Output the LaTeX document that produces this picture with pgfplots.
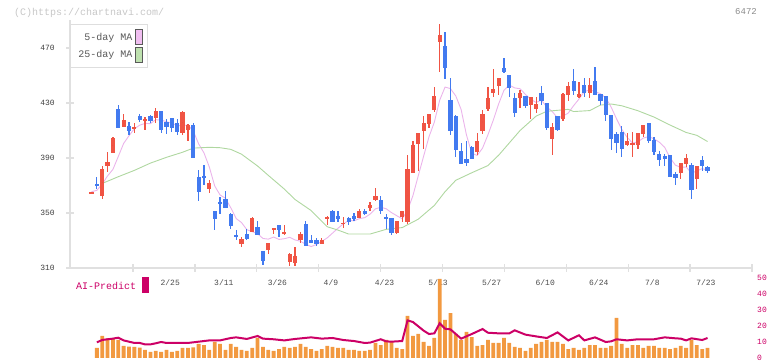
\documentclass[border=0pt]{standalone}
\usepackage{pgfplots}
\usepackage{pgfplotstable}
\pgfplotsset{compat=1.18}
\usepackage{fontspec}
\setmainfont{Liberation Mono}
\definecolor{cred}{RGB}{240,84,68}
\definecolor{cblue}{RGB}{66,122,240}
\definecolor{cpink}{RGB}{235,180,235}
\definecolor{cpinkfill}{RGB}{240,190,240}
\definecolor{cgreen}{RGB}{175,215,160}
\definecolor{cgreenfill}{RGB}{190,225,175}
\definecolor{corange}{RGB}{242,153,64}
\definecolor{cmag}{RGB}{204,0,102}
\definecolor{caxis}{RGB}{224,224,224}

\pgfplotstableread{
i o h l c
0 364.6 365.6 364.6 365.2
2 362.6 384.2 360.4 382.0
3 384.2 394.4 379.6 387.1
4 393.9 405.3 393.4 404.5
6 412.8 422.0 412.8 417.6
8 411.6 415.5 408.4 412.3
10 417.4 419.6 410.4 418.1
12 418.9 426.4 415.2 424.2
17 408.0 424.0 407.0 423.5
18 410.6 414.5 402.6 414.0
22 367.7 374.0 364.8 371.8
28 327.7 332.8 325.3 331.1
30 336.4 347.3 336.4 346.4
33 323.3 328.2 320.4 328.2
34 338.1 339.3 334.5 338.9
36 334.5 341.3 334.0 336.4
37 314.6 320.9 311.7 320.2
38 313.9 325.3 311.7 318.7
39 330.4 336.4 328.0 334.5
43 327.5 331.6 327.5 330.4
44 345.9 347.5 341.5 347.1
47 342.2 347.1 339.3 342.9
50 346.6 352.7 346.6 351.5
52 353.9 358.0 351.7 356.0
53 359.7 368.0 358.9 362.4
57 335.7 344.2 334.5 344.2
58 347.1 351.5 343.7 351.5
59 343.7 392.2 342.0 382.0
60 379.3 402.4 379.0 399.5
61 400.0 408.2 380.8 408.2
62 409.9 420.3 396.5 415.5
63 414.9 422.0 411.6 422.0
64 424.9 441.6 423.7 435.1
65 474.6 487.5 452.8 479.7
72 394.4 408.2 392.2 402.4
73 409.9 424.9 407.7 422.0
74 425.6 441.6 424.4 433.6
75 437.3 454.7 434.4 440.2
76 442.6 448.2 436.0 448.2
80 433.9 439.5 426.6 437.3
82 428.5 434.4 418.4 434.4
83 425.6 434.4 422.7 429.3
86 403.8 415.5 392.2 412.5
88 418.4 437.3 416.9 436.5
89 435.8 445.3 431.5 442.4
91 434.5 445.3 433.6 436.5
93 437.3 448.2 433.6 443.1
100 399.5 408.2 398.7 402.4
101 400.0 408.9 391.0 400.9
102 399.5 408.2 396.5 408.2
103 407.5 414.0 405.3 414.0
110 379.1 386.4 374.7 386.4
111 385.6 392.9 383.5 390.0
113 374.7 384.2 367.5 384.2
}\redtab

\pgfplotstableread{
i o h l c
1 371.1 376.2 367.2 369.9
5 425.6 428.5 412.0 412.0
7 413.3 416.0 406.9 409.9
9 420.5 422.0 416.0 417.9
11 420.5 421.0 415.2 416.9
13 424.2 424.2 408.4 410.6
14 416.0 418.1 407.5 412.5
15 419.1 419.1 409.0 412.0
16 415.5 418.4 406.9 408.7
19 414.0 415.2 389.8 389.8
20 376.2 381.5 358.9 365.5
21 377.1 385.1 370.4 375.9
23 351.7 351.7 337.9 345.6
24 358.0 361.6 349.5 356.8
25 360.2 365.8 353.9 353.9
26 349.5 350.2 338.4 340.8
27 334.0 337.9 330.6 332.8
29 334.7 338.1 330.4 331.1
31 339.8 344.2 333.8 333.8
32 322.4 322.4 312.4 315.3
35 341.3 341.3 332.8 337.6
40 342.0 344.0 326.2 326.2
41 330.4 334.0 328.4 328.4
42 330.4 331.6 326.2 327.5
45 351.5 352.2 343.7 343.7
46 347.8 351.5 343.7 345.9
48 346.4 347.1 341.5 343.5
49 347.8 350.0 344.2 345.6
51 351.5 352.7 348.5 349.3
54 359.5 362.4 349.3 351.7
55 347.1 349.3 338.4 345.9
56 346.1 346.1 333.8 335.7
66 471.5 481.6 447.7 455.7
67 432.2 448.0 406.7 409.9
68 420.5 421.3 391.0 395.8
69 395.1 400.9 385.6 385.6
70 389.3 402.4 384.4 386.6
71 398.0 398.5 389.3 389.3
77 455.5 462.7 451.8 452.5
78 450.4 450.4 434.6 441.1
79 433.6 437.3 420.0 423.0
81 435.1 435.1 426.6 427.8
84 437.3 442.4 428.5 431.5
85 430.0 430.0 410.4 411.8
87 420.5 420.5 409.6 410.4
90 446.0 454.7 435.8 438.7
92 443.1 448.2 434.4 437.3
94 446.0 456.2 435.8 435.8
95 436.5 436.5 428.5 431.5
96 435.1 435.1 416.9 421.3
97 421.3 421.3 395.8 403.8
98 407.5 408.9 393.9 400.7
99 408.9 413.3 391.0 396.8
104 415.5 415.5 400.7 402.4
105 403.1 405.3 392.2 394.4
106 392.9 395.1 384.2 388.5
107 391.5 392.9 384.2 389.5
108 392.2 392.2 376.2 376.2
109 378.4 379.8 370.4 375.5
112 384.9 386.4 360.2 366.7
114 388.5 391.5 380.5 384.2
115 383.5 384.2 379.1 380.5
}\bluetab

\pgfplotstableread{
i v
1 6.25
2 13.75
3 12.3
4 12.3
5 11.25
6 7.5
7 7.1
8 6.9
9 6.5
10 5.0
11 3.75
12 4.4
13 3.75
14 5.0
15 3.75
16 4.4
17 6.25
18 6.25
19 6.7
20 8.75
21 8.1
22 5.0
23 10
24 8.75
25 5.0
26 8.75
27 6.9
28 5.0
29 4.4
30 6.25
31 12.5
32 6.9
33 5.0
34 4.4
35 5.6
36 6.9
37 6.25
38 6.9
39 8.75
40 6.9
41 5.6
42 4.4
43 5.6
44 7.5
45 6.9
46 6.25
47 6.25
48 5.0
49 5.0
50 4.4
51 4.4
52 5.0
53 9.4
54 8.1
55 11.25
56 10
57 6.25
58 5.6
59 26.25
60 13.75
61 15
62 10
63 7.5
64 12.5
65 49.4
66 23.75
67 28.1
68 15
69 11.25
70 16.25
71 13.1
72 7.5
73 8.1
74 11.25
75 9.4
76 9.4
77 12.5
78 9.4
79 6.9
80 6.25
81 4.4
82 6.25
83 8.75
84 10
85 11.25
86 10
87 10
88 8.75
89 5.6
90 6.25
91 5.0
92 6.25
93 8.1
94 8.1
95 6.25
96 6.25
97 7.5
98 25
99 8.75
100 6.25
101 8.1
102 8.1
103 6.25
104 7.5
105 7.5
106 6.25
107 6.25
108 5.6
109 6.25
110 7.5
111 6.25
112 11.25
113 8.1
114 5.6
115 6.25
}\voltab

\pgfplotsset{
  base/.style={scale only axis, width=682pt, xmin=-4.013, xmax=123.3, anchor=south west},
  wick/.style={only marks, mark=*, mark size=0pt, mark options={draw=none, fill=none}, forget plot,
    error bars/.cd, y dir=both, y explicit, error mark=none,
    error bar style={draw=#1, line width=1.2pt}},
  body/.style={only marks, mark=*, mark size=0pt, mark options={draw=none, fill=none}, forget plot,
    error bars/.cd, y dir=both, y explicit, error mark=none,
    error bar style={draw=#1, line width=4.2pt}},
}

\begin{document}
\begin{tikzpicture}
\path[use as bounding box] (0,0) rectangle (772pt,361pt);
\begin{axis}[base, at={(70pt,93pt)}, height=248pt, ymin=310, ymax=490.4,
  axis x line*=bottom, axis y line*=left,
  axis line style={draw=caxis, line width=1.3pt, -},
  xtick={7.75,19.31,30.86,42.42,53.97,65.53,77.08,88.64,100.19,111.75,123.3},
  xticklabels={},
  ytick={310,350,390,430,470},
  tick align=center, major tick length=8pt,
  tick style={draw=caxis, line width=1.3pt},
  yticklabel style={font=\fontsize{8}{9}\selectfont, text=black!75, inner sep=0pt, xshift=-11pt},
  extra x ticks={14.7,24.7,34.7,44.7,54.7,64.7,74.7,84.7,94.7,104.7,114.7},
  extra x tick labels={2/25,3/11,3/26,4/9,4/23,5/13,5/27,6/10,6/24,7/8,7/23},
  extra x tick style={major tick length=0pt, tick style={draw=none},
    xticklabel style={anchor=center, yshift=-14.5pt, inner sep=0pt, font=\fontsize{8}{9}\selectfont, text=black!70}},
  /pgf/number format/assume math mode=true,
  legend plot pos=right,
  legend style={at={(0,1)}, anchor=north west, yshift=-4pt, draw=black!13, line width=0.8pt,
    fill=white, font=\fontsize{10}{12}\selectfont, text=black!65,
    inner xsep=5pt, inner ysep=5pt, row sep=2pt, cells={anchor=east},
    nodes={inner xsep=3pt}},
]
\addplot[cpink, line width=0.9pt, mark=none,
  legend image code/.code={\draw[fill=cpinkfill, draw=black!65, line width=0.7pt] (2pt,-7.5pt) rectangle (8.4pt,7.5pt);}]
coordinates {(0,365.5)(1,366.5)(2,371)(3,377)(4,381.7)(5,391.1)(6,400.6)(7,406.2)(8,411.3)(9,413.9)(10,415.2)(11,415.0)(12,417.9)(13,417.5)(14,416.5)(15,415.2)(16,413.6)(17,413.5)(18,414.1)(19,409.6)(20,400.3)(21,393.7)(22,383.4)(23,369.7)(24,363.1)(25,360.8)(26,353.8)(27,346.0)(28,343.1)(29,337.9)(30,336.4)(31,335.0)(32,331.5)(33,331.0)(34,332.5)(35,330.8)(36,331.3)(37,332.3)(38,330.4)(39,329.5)(40,327.2)(41,325.6)(42,327.1)(43,329.4)(44,331.9)(45,335.4)(46,338.9)(47,342.0)(48,344.6)(49,344.3)(50,345.9)(51,346.6)(52,349.2)(53,353.0)(54,354.2)(55,353.1)(56,350.3)(57,348.0)(58,345.8)(59,351.9)(60,362.6)(61,377.1)(62,391.3)(63,405.4)(64,416.1)(65,432.1)(66,441.6)(67,440.5)(68,435.2)(69,425.3)(70,406.7)(71,393.4)(72,391.9)(73,397.2)(74,406.8)(75,417.5)(76,429.3)(77,439.3)(78,443.1)(79,441.0)(80,440.4)(81,436.3)(82,432.7)(83,430.4)(84,432.1)(85,427.0)(86,423.9)(87,419.1)(88,420.5)(89,422.7)(90,428.1)(91,432.9)(92,438.3)(93,439.6)(94,438.3)(95,436.8)(96,433.8)(97,427.1)(98,418.6)(99,410.8)(100,405.0)(101,400.9)(102,401.8)(103,404.5)(104,405.6)(105,404.0)(106,401.5)(107,397.8)(108,390.2)(109,384.8)(110,383.2)(111,383.5)(112,379.0)(113,380.6)(114,382.3)(115,381.1)};
\addlegendentry{5-day MA}
\addplot[cgreen, line width=0.9pt, mark=none,
  legend image code/.code={\draw[fill=cgreenfill, draw=black!65, line width=0.7pt] (2pt,-7.5pt) rectangle (8.4pt,7.5pt);}]
coordinates {(2,371.5)(5,376.4)(8,381.0)(11,386.3)(14,390.5)(17,394.2)(19,397.2)(22,397.8)(24,397.5)(26,396.3)(28,392.8)(31,384.2)(33,377.4)(36,367.4)(38,359.8)(41,351.8)(44,340.0)(46,337.6)(48,334.7)(52,334.7)(55,338.1)(58,339.4)(61,345.5)(64,355.5)(66,365.5)(68,373.8)(71,379.3)(74,384.5)(76,392)(78,401)(80,410.0)(83,420.5)(85,424.0)(89,425.4)(90,423.8)(93,424.5)(95,428.5)(97,429.3)(99,428.0)(102,424.4)(105,419.8)(108,414.0)(111,408.6)(113,406.5)(115,402.0)};
\addlegendentry{25-day MA}
\addplot[wick=cred] table[x=i, y expr={(\thisrow{h}+\thisrow{l})/2}, y error expr={(\thisrow{h}-\thisrow{l})/2}] {\redtab};
\addplot[wick=cblue] table[x=i, y expr={(\thisrow{h}+\thisrow{l})/2}, y error expr={(\thisrow{h}-\thisrow{l})/2}] {\bluetab};
\addplot[body=cred] table[x=i, y expr={(\thisrow{o}+\thisrow{c})/2}, y error expr={max(abs(\thisrow{c}-\thisrow{o})/2,0.45)}] {\redtab};
\addplot[body=cblue] table[x=i, y expr={(\thisrow{o}+\thisrow{c})/2}, y error expr={max(abs(\thisrow{c}-\thisrow{o})/2,0.45)}] {\bluetab};
\end{axis}

\begin{axis}[base, at={(70pt,3pt)}, height=80pt, ymin=0, ymax=50,
  axis x line=none, axis y line*=right, axis line style={draw=none},
  ytick={0,10,20,30,40,50}, major tick length=0pt,
  yticklabel style={font=\fontsize{8}{9}\selectfont, text=cmag, inner sep=0pt, anchor=west, xshift=5pt},
  /pgf/number format/assume math mode=true, clip=false]
\addplot[ybar, bar width=3.8pt, bar shift=0pt, fill=corange, draw=none] table[x=i, y=v] {\voltab};
\addplot[cmag, line width=2pt, mark=none] coordinates {(1,9.8)(2,11.25)(3,11.7)(4,12.1)(5,12.7)(6,11.0)(7,10.2)(8,9.4)(9,9.4)(10,8.5)(11,8.5)(12,9.2)(13,10)(14,9.4)(16,9.4)(18,9.4)(20,10.2)(22,11.0)(24,11.0)(26,12.5)(27,12.9)(29,11.9)(31,13.75)(32,12.1)(34,11.7)(36,11.0)(38,11.9)(41,12.9)(43,12.1)(45,12.5)(47,11.25)(49,10.6)(51,9.4)(52,9.6)(54,11.7)(55,10.4)(56,10.2)(57,10.4)(58,10.6)(59,23.5)(60,22.5)(62,17.1)(63,15)(64,15.4)(65,21.7)(66,18.3)(67,17.9)(69,12.1)(71,15)(73,18.1)(74,15.8)(76,15.4)(78,15.4)(79,17.3)(81,14.6)(83,13.5)(85,12.5)(87,16)(89,11.0)(91,14.2)(92,11.0)(94,12.9)(96,10)(97,10.4)(98,11.7)(100,11.0)(102,11.7)(105,11.7)(107,12.9)(109,12.3)(110,12.1)(111,11.0)(112,12.3)(114,11.25)(115,12.5)};
\end{axis}

\node[anchor=west, inner sep=0pt, text=black!22, font=\fontsize{10}{12}\selectfont] at (14pt,348.5pt) {(C)https://chartnavi.com/};
\node[anchor=east, inner sep=0pt, text=black!45, font=\fontsize{9}{11}\selectfont] at (757pt,349pt) {6472};
\node[anchor=west, inner sep=0pt, text=cmag, font=\fontsize{10}{12}\selectfont] at (76pt,75.5pt) {AI-Predict};
\fill[cmag] (142.3pt,68pt) rectangle (148.7pt,84pt);
\end{tikzpicture}
\end{document}
